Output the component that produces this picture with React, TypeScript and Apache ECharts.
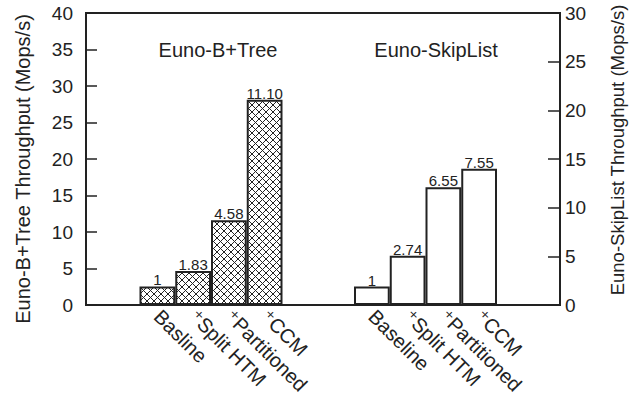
import React, { useEffect, useRef } from "react";
import * as echarts from "echarts";

const btreeCategories = ["Basline", "⁺Split HTM", "⁺Partitioned", "⁺CCM"];
const skipCategories = ["Baseline", "⁺Split HTM", "⁺Partitioned", "⁺CCM"];
const btreeValues = [2.55, 4.65, 11.6, 28.1];
const btreeLabels = ["1", "1.83", "4.58", "11.10"];
const skipValues = [1.9, 5.05, 12.1, 14.0];
const skipLabels = ["1", "2.74", "6.55", "7.55"];
const leftAxisRange = [0, 40];
const rightAxisRange = [0, 30];
const tickStep = 5;
const groupTitles = ["Euno-B+Tree", "Euno-SkipList"];
const axisNames = ["Euno-B+Tree Throughput (Mops/s)", "Euno-SkipList Throughput (Mops/s)"];

const FONT = "'Liberation Sans', Arial, Helvetica, 'DejaVu Sans', sans-serif";
const INK = "#222";

function makeHatch() {
  const s = 7;
  const c = document.createElement("canvas");
  c.width = s;
  c.height = s;
  const ctx = c.getContext("2d")!;
  ctx.fillStyle = "#fff";
  ctx.fillRect(0, 0, s, s);
  ctx.strokeStyle = INK;
  ctx.lineWidth = 1;
  for (const off of [-s, 0, s]) {
    ctx.beginPath();
    ctx.moveTo(off, 0);
    ctx.lineTo(off + s, s);
    ctx.stroke();
    ctx.beginPath();
    ctx.moveTo(off, s);
    ctx.lineTo(off + s, 0);
    ctx.stroke();
  }
  return c;
}

export default function App() {
  const ref = useRef<HTMLDivElement>(null);
  useEffect(() => {
    if (!ref.current) return;
    const chart = echarts.init(ref.current, undefined, { renderer: "svg" });
    const hatch = makeHatch();
    const cats = [...btreeCategories, "", "", ...skipCategories];
    const pad = ["-", "-"];
    const empty4 = ["-", "-", "-", "-"];
    const btreeData = [...btreeValues, ...pad, ...empty4];
    const skipData = [...empty4, ...pad, ...skipValues];

    const gridTop = 13;
    const gridBottom = 100;

    chart.setOption({
      animation: false,
      backgroundColor: "#fff",
      textStyle: { fontFamily: FONT, color: INK },
      grid: [
        {
          left: 86, right: 74, top: gridTop, bottom: gridBottom,
          show: true, borderColor: INK, borderWidth: 2, backgroundColor: "transparent",
        },
        { left: 139.5, right: 137, top: gridTop, bottom: gridBottom },
      ],
      xAxis: [
        { type: "value", gridIndex: 0, show: false, min: 0, max: 1 },
        {
          type: "category",
          gridIndex: 1,
          data: cats,
          axisLine: { show: false },
          axisTick: { show: false },
          axisLabel: {
            interval: 0,
            rotate: -45,
            align: "left",
            margin: 8,
            padding: [0, 0, 9, 0],
            fontSize: 20,
            fontFamily: FONT,
            color: INK,
          },
        },
      ],
      yAxis: [
        {
          type: "value", gridIndex: 0, position: "left",
          min: leftAxisRange[0], max: leftAxisRange[1], interval: tickStep,
          axisLine: { show: true, lineStyle: { color: INK, width: 2 } },
          axisTick: { show: true, inside: true, length: 11, lineStyle: { color: INK, width: 1.5 } },
          axisLabel: { fontSize: 19, color: INK, margin: 13, fontFamily: FONT },
          splitLine: { show: false },
        },
        {
          type: "value", gridIndex: 0, position: "right",
          min: rightAxisRange[0], max: rightAxisRange[1], interval: tickStep,
          axisLine: { show: true, lineStyle: { color: INK, width: 2 } },
          axisTick: { show: true, inside: true, length: 12, lineStyle: { color: INK, width: 1.5 } },
          axisLabel: { fontSize: 19, color: INK, margin: 5, fontFamily: FONT },
          splitLine: { show: false },
        },
        { type: "value", gridIndex: 1, show: false, min: leftAxisRange[0], max: leftAxisRange[1] },
        { type: "value", gridIndex: 1, show: false, min: rightAxisRange[0], max: rightAxisRange[1] },
      ],
      series: [
        {
          type: "bar",
          name: groupTitles[0],
          xAxisIndex: 1,
          yAxisIndex: 2,
          data: btreeData,
          barCategoryGap: "0%",
          barGap: "-100%",
          itemStyle: {
            color: { image: hatch, repeat: "repeat", imageWidth: 7, imageHeight: 7 } as any,
            borderColor: INK,
            borderWidth: 2,
          },
          label: {
            show: true,
            position: "top",
            distance: -1,
            fontSize: 15,
            color: INK,
            fontFamily: FONT,
            formatter: (p: any) => btreeLabels[p.dataIndex] ?? "",
          },
        },
        {
          type: "bar",
          name: groupTitles[1],
          xAxisIndex: 1,
          yAxisIndex: 3,
          data: skipData,
          barCategoryGap: "0%",
          barGap: "-100%",
          itemStyle: { color: "#fff", borderColor: INK, borderWidth: 2 },
          label: {
            show: true,
            position: "top",
            distance: -1,
            fontSize: 15,
            color: INK,
            fontFamily: FONT,
            formatter: (p: any) => skipLabels[p.dataIndex - 6] ?? "",
          },
        },
      ],
      graphic: [
        {
          type: "text", x: 218, y: 50,
          style: { text: groupTitles[0], fontSize: 20, fontFamily: FONT, fill: INK, align: "center", verticalAlign: "middle" },
        },
        {
          type: "text", x: 436, y: 50,
          style: { text: groupTitles[1], fontSize: 20, fontFamily: FONT, fill: INK, align: "center", verticalAlign: "middle" },
        },
        {
          type: "text", x: 23, y: 169, rotation: Math.PI / 2,
          style: { text: axisNames[0], fontSize: 20, fontFamily: FONT, fill: INK, align: "center", verticalAlign: "middle" },
        },
        {
          type: "text", x: 617, y: 150, rotation: Math.PI / 2,
          style: { text: axisNames[1], fontSize: 18.5, fontFamily: FONT, fill: INK, align: "center", verticalAlign: "middle" },
        },
      ],
    });
    return () => chart.dispose();
  }, []);
  return (
    <div
      ref={ref}
      style={{ position: "fixed", left: 0, top: 0, width: 634, height: 405, background: "#fff" }}
    />
  );
}
